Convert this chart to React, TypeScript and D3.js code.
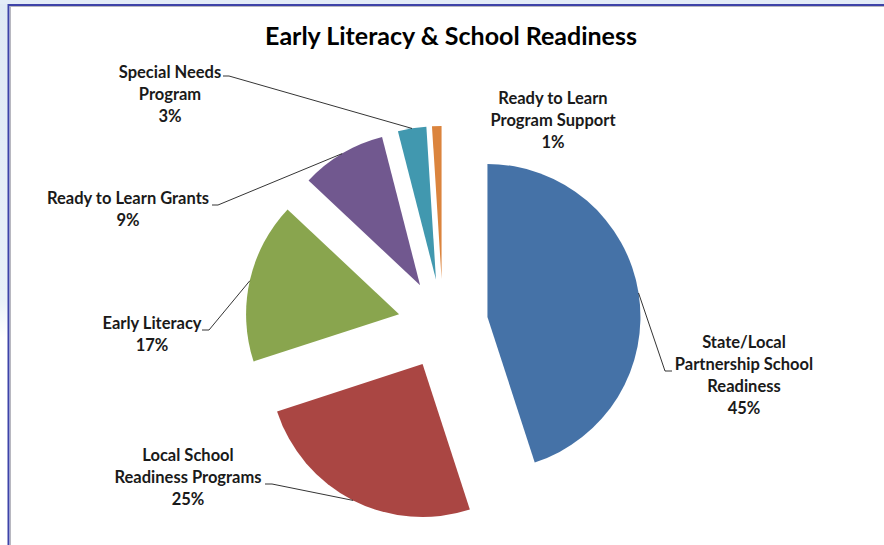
import React from "react";
import * as d3 from "d3";

// Budget shares for early literacy and school readiness programs (percent)
const categories = [
  "State/Local Partnership School Readiness",
  "Local School Readiness Programs",
  "Early Literacy",
  "Ready to Learn Grants",
  "Special Needs Program",
  "Ready to Learn Program Support",
];
const values = [45, 25, 17, 9, 3, 1];
const labelLines = [
  ["State/Local", "Partnership School", "Readiness"],
  ["Local School", "Readiness Programs"],
  ["Early Literacy"],
  ["Ready to Learn Grants"],
  ["Special Needs", "Program"],
  ["Ready to Learn", "Program Support"],
];
const colors = ["#4572A7", "#AA4643", "#89A54E", "#71588F", "#4198AF", "#DB843D"];
const title = "Early Literacy & School Readiness";

// Layout
const W = 884;
const H = 545;
const CX = 443;
const CY = 324;
const R = 153;
const EXPLODE = 45;
const LINE_H = 22;

// label block: centre x, first baseline, leader start (label side) or null
const labelLayout = [
  { x: 744, y: 348, lead: [[672, 371], [665, 371]] },
  { x: 188, y: 461, lead: [[265, 484], [272, 484]] },
  { x: 152, y: 329, lead: [[202, 330], [209, 330]] },
  { x: 128, y: 204, lead: [[212, 205], [218, 205]] },
  { x: 170, y: 78, lead: [[223, 76], [229, 76]] },
  { x: 553, y: 104, lead: null },
];

const FONT = "Lato, 'Open Sans', sans-serif";

export default function App() {
  const pie = d3
    .pie<number>()
    .sort(null)
    .value((d) => d)
    .startAngle(0)
    .endAngle(2 * Math.PI);
  const arcs = pie(values);
  const arcGen = d3.arc<d3.PieArcDatum<number>>().innerRadius(0).outerRadius(R);
  const total = d3.sum(values);

  return (
    <div style={{ position: "fixed", left: 0, top: 0 }}>
      <svg width={W} height={H} style={{ display: "block" }}>
        <defs>
          <linearGradient id="leftStrip" x1="0" y1="0" x2="0" y2="1">
            <stop offset="0" stopColor="#dfe9f5" />
            <stop offset="0.55" stopColor="#e9f1f9" />
            <stop offset="0.62" stopColor="#ffffff" />
            <stop offset="1" stopColor="#ffffff" />
          </linearGradient>
        </defs>
        <rect x={0} y={0} width={W} height={H} fill="#ffffff" />
        <rect x={0} y={0} width={8} height={H} fill="url(#leftStrip)" />
        <rect x={0} y={0} width={W} height={4} fill="#e3ecf7" />
        {/* chart frame */}
        <line x1={8} y1={5} x2={W} y2={5} stroke="#3d43a8" strokeWidth={2} />
        <line x1={8.5} y1={4} x2={8.5} y2={H} stroke="#3d43a8" strokeWidth={2} />
        <line x1={10} y1={6.5} x2={W} y2={6.5} stroke="#b8b8c0" strokeWidth={1} />
        <line x1={10.5} y1={6} x2={10.5} y2={H} stroke="#b8b8c0" strokeWidth={1} />

        <text
          x={451}
          y={45}
          textAnchor="middle"
          fontFamily={FONT}
          fontWeight={700}
          fontSize={25}
          fill="#000"
        >
          {title}
        </text>

        {arcs.map((a, i) => {
          const mid = (a.startAngle + a.endAngle) / 2;
          const dx = EXPLODE * Math.sin(mid);
          const dy = -EXPLODE * Math.cos(mid);
          return (
            <path
              key={categories[i]}
              d={arcGen(a) || ""}
              transform={`translate(${CX + dx},${CY + dy})`}
              fill={colors[i]}
            />
          );
        })}

        {arcs.map((a, i) => {
          const lay = labelLayout[i];
          if (!lay.lead) return null;
          const mid = (a.startAngle + a.endAngle) / 2;
          const ex = CX + (EXPLODE + R) * Math.sin(mid);
          const ey = CY - (EXPLODE + R) * Math.cos(mid);
          const pts = [...lay.lead, [ex, ey]] as [number, number][];
          return (
            <path
              key={"lead" + i}
              d={d3.line()(pts) || ""}
              fill="none"
              stroke="#000"
              strokeWidth={0.8}
            />
          );
        })}

        {arcs.map((a, i) => {
          const lay = labelLayout[i];
          const pct = `${Math.round((values[i] / total) * 100)}%`;
          const lines = [...labelLines[i], pct];
          return (
            <text
              key={"lab" + i}
              x={lay.x}
              y={lay.y}
              textAnchor="middle"
              fontFamily={FONT}
              fontWeight={700}
              fontSize={16.5}
              fill="#1a1a1a"
            >
              {lines.map((t, k) => (
                <tspan key={k} x={lay.x} y={lay.y + k * LINE_H}>
                  {t}
                </tspan>
              ))}
            </text>
          );
        })}
      </svg>
    </div>
  );
}
